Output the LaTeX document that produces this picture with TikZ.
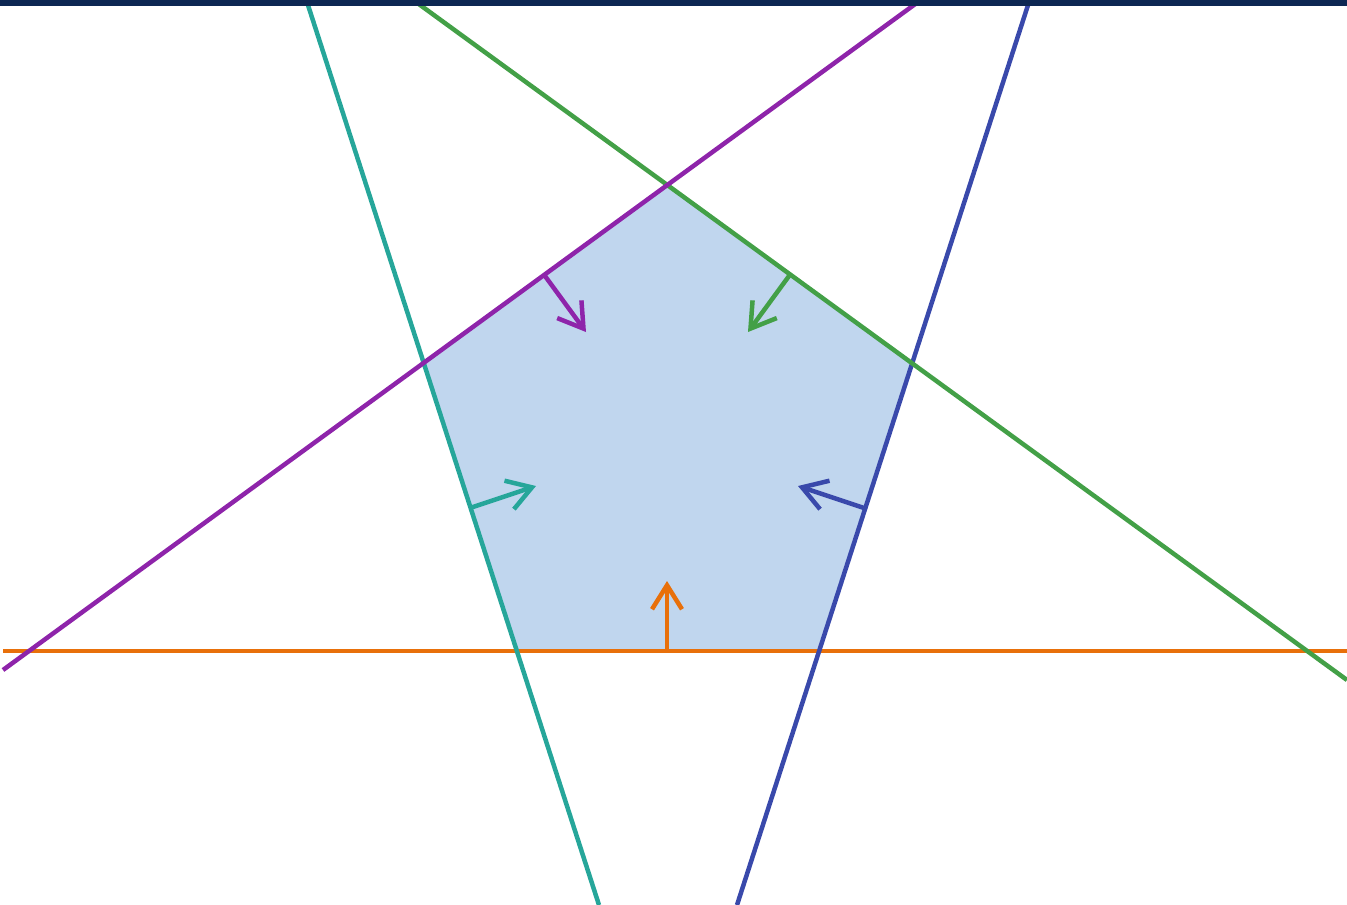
\documentclass[tikz,border=0pt]{standalone}
\usetikzlibrary{arrows.meta}
\definecolor{cOrange}{HTML}{E8700A}
\definecolor{cPurple}{HTML}{8E24AA}
\definecolor{cGreen}{HTML}{43A047}
\definecolor{cTeal}{HTML}{26A69A}
\definecolor{cBlue}{HTML}{3949AB}
\definecolor{cFill}{HTML}{C0D6EE}
\definecolor{cNavy}{HTML}{0D2753}
\tikzset{
  halfline/.style={line width=4.5pt},
  normarrow/.style={line width=4.5pt, -{Straight Barb[length=24pt,width=30pt,line width=4.5pt]}}
}
\begin{document}
\begin{tikzpicture}[x=1pt,y=-1pt]
\useasboundingbox (0,0) rectangle (1347,905);
% pentagon vertices
\coordinate (T) at (667,186);
\coordinate (R) at (910,364);
\coordinate (BR) at (817,651);
\coordinate (BL) at (517,651);
\coordinate (L) at (424,364);
\fill[cFill] (T) -- (R) -- (BR) -- (BL) -- (L) -- cycle;
% line end points
\coordinate (o1) at (3,651);   \coordinate (o2) at (1347,651);
\coordinate (t1) at (307,2);   \coordinate (t2) at (599,905);
\coordinate (b1) at (1029,2);  \coordinate (b2) at (737,905);
\coordinate (g1) at (416,2);   \coordinate (g2) at (1347,680);
\coordinate (p1) at (3,670);   \coordinate (p2) at (918,2);
\draw[halfline,cOrange] (o1) -- (o2);
\draw[halfline,cTeal] (t1) -- (t2);
\draw[halfline,cBlue] (b1) -- (b2);
\draw[halfline,cGreen] (g1) -- (g2);
\draw[halfline,cPurple] (p1) -- (p2);
% inward normals
\coordinate (mo) at (667,651);  \coordinate (ao) at (667,581);
\coordinate (mp) at (545,276);  \coordinate (ap) at (586,332);
\coordinate (mg) at (789,276);  \coordinate (ag) at (748,332);
\coordinate (mt) at (470,508);  \coordinate (at2) at (536,486);
\coordinate (mb) at (864,508);  \coordinate (ab) at (798,486);
\draw[normarrow,cOrange] (mo) -- (ao);
\draw[normarrow,cPurple] (mp) -- (ap);
\draw[normarrow,cGreen] (mg) -- (ag);
\draw[normarrow,cTeal] (mt) -- (at2);
\draw[normarrow,cBlue] (mb) -- (ab);
% top bar
\fill[cNavy] (0,0) rectangle (1347,6);
\end{tikzpicture}
\end{document}
